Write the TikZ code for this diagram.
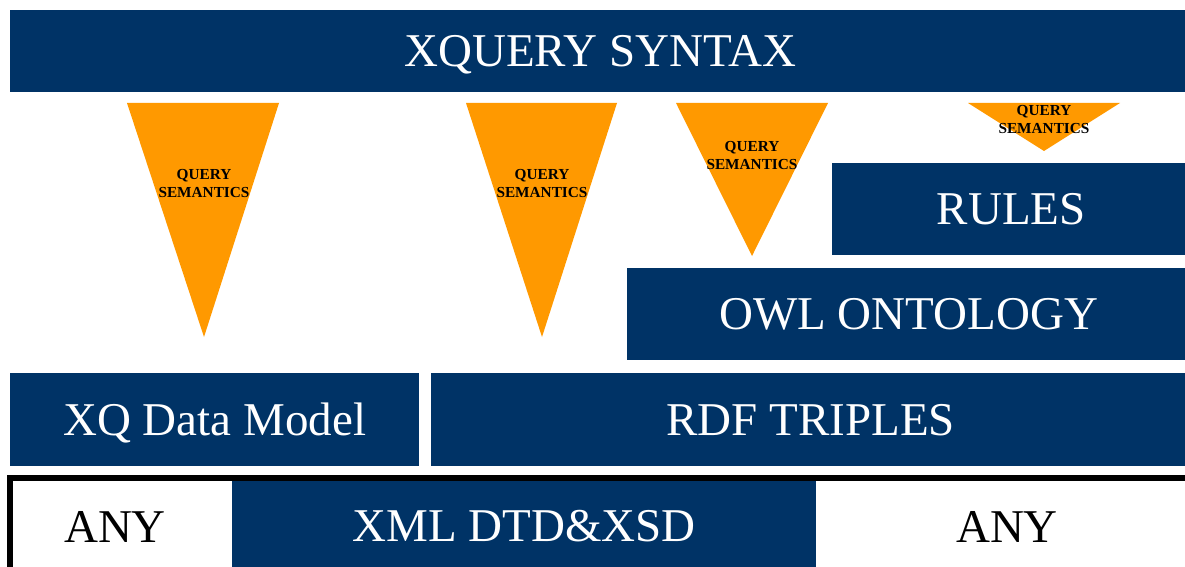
\documentclass[tikz,border=0pt]{standalone}
\usepackage{fontspec}
\setmainfont{Liberation Serif}
\definecolor{layerblue}{RGB}{0,51,102}
\definecolor{semorange}{RGB}{255,153,0}
\begin{document}
\begin{tikzpicture}[
        x=1pt, y=-1pt,
        font=\fontsize{47}{56}\selectfont
    ]
    \tikzset{
        layer/.style = {rectangle, anchor=north west, fill=layerblue, text=white, inner sep=0pt, text height=31pt, text depth=0pt},
        plain/.style = {text=black, inner sep=0pt, text height=31pt, text depth=0pt},
        wedge/.style = {fill=semorange},
        semtext/.style = {align=center, font=\fontsize{15.3}{18}\selectfont\bfseries},
    }
    \useasboundingbox (0,0) rectangle (1185,567);
    \fill[white] (0,0) rectangle (1185,567);
    % layers
    \node[layer,minimum width=1180pt,minimum height=82pt] (syntax) at (10,10) {XQUERY SYNTAX};
    \node[layer,minimum width=358pt,minimum height=92pt] (rules) at (832,163) {RULES};
    \node[layer,minimum width=563pt,minimum height=92pt] (owl) at (627,268) {OWL ONTOLOGY};
    \node[layer,minimum width=409pt,minimum height=93pt] (xqdm) at (10,373) {XQ Data Model};
    \node[layer,minimum width=759pt,minimum height=93pt] (rdf) at (431,373) {RDF TRIPLES};
    % storage frame
    \node[layer,minimum width=584pt,minimum height=90pt] (xml) at (232,481) {XML DTD\&XSD};
    \node[plain] (anyl) at (115,527) {ANY};
    \node[plain] (anyr) at (1007,527) {ANY};
    \draw[line width=6pt] (10,575) -- (10,478) -- (1192,478);
    % query semantics wedges
    \fill[wedge] (127,103) -- (279,103) -- (204,337) -- cycle;
    \fill[wedge] (466,103) -- (617,103) -- (542,337) -- cycle;
    \fill[wedge] (676,103) -- (828,103) -- (752,256) -- cycle;
    \fill[wedge] (968,103) -- (1120,103) -- (1044,151) -- cycle;
    \node[semtext] (sem1) at (204,184) {QUERY\\SEMANTICS};
    \node[semtext] (sem2) at (542,184) {QUERY\\SEMANTICS};
    \node[semtext] (sem3) at (752,156) {QUERY\\SEMANTICS};
    \node[semtext] (sem4) at (1044,120) {QUERY\\SEMANTICS};
\end{tikzpicture}
\end{document}
